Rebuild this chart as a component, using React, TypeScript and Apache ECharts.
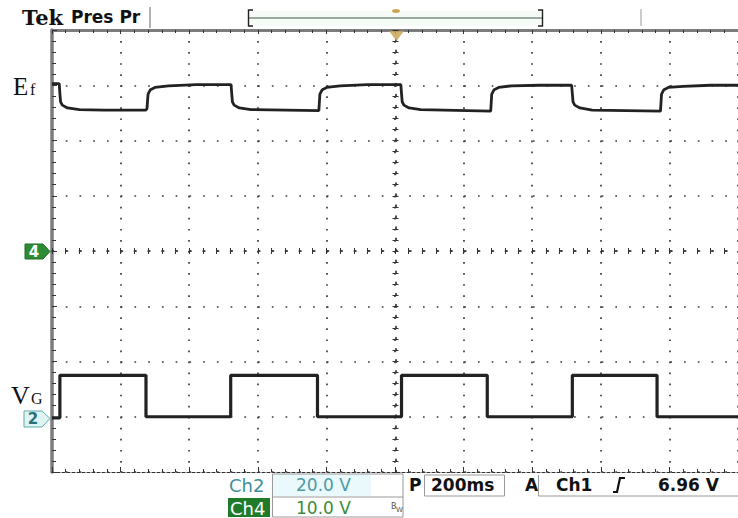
import React, { useEffect, useRef } from "react";
import * as echarts from "echarts";

// time axis (ms), 200 ms/div, 10 divisions
const timeMin = 0;
const timeMax = 2000;
const timeStep = 200;
// vertical axis in divisions
const divMin = -4;
const divMax = 4;
const divStep = 1;

// Ef trace (ms, div)
const efPoints: [number, number][] = [
  [0, 3.03], [21, 3.03], [23, 2.85], [25, 2.7], [30, 2.64], [45, 2.59], [80, 2.56], [150, 2.55], [274, 2.55],
  [277, 2.58], [280, 2.84], [287, 2.92], [300, 2.96], [340, 2.99], [420, 3.01], [522, 3.01],
  [524, 2.85], [526, 2.7], [531, 2.64], [546, 2.59], [580, 2.56], [778, 2.54],
  [781, 2.84], [788, 2.92], [801, 2.96], [840, 2.99], [920, 3.01], [1017, 3.01],
  [1019, 2.85], [1021, 2.7], [1026, 2.64], [1041, 2.59], [1075, 2.56], [1279, 2.53],
  [1282, 2.84], [1289, 2.92], [1302, 2.96], [1340, 2.99], [1420, 3.0], [1515, 3.0],
  [1517, 2.85], [1519, 2.7], [1524, 2.64], [1539, 2.59], [1575, 2.55], [1774, 2.53],
  [1777, 2.84], [1784, 2.92], [1797, 2.96], [1840, 2.98], [1920, 3.0], [2000, 3.0],
];

// VG trace (ms, div)
const vgPoints: [number, number][] = [
  [0, -3.02], [23, -3.02], [23, -2.25], [274, -2.25], [274, -3.0], [521, -3.0],
  [521, -2.25], [774, -2.25], [774, -3.0], [1019, -3.0], [1019, -2.25], [1269, -2.25],
  [1269, -3.0], [1517, -3.0], [1517, -2.25], [1764, -2.25], [1764, -3.0], [2000, -3.0],
];

const traceColor = "#222222";
const dotColor = "#3c3c3c";
const borderGray = "#7d7d7d";

export default function App() {
  const ref = useRef<HTMLDivElement>(null);
  useEffect(() => {
    if (!ref.current) return;
    const chart = echarts.init(ref.current, undefined, { renderer: "svg" });
    const xBase = {
      type: "value",
      min: timeMin,
      max: timeMax,
      interval: timeStep,
      axisLabel: { show: false },
      splitLine: { show: false },
    };
    const yBase = {
      type: "value",
      min: divMin,
      max: divMax,
      interval: divStep,
      axisLabel: { show: false },
      splitLine: { show: false },
    };
    const sans = "DejaVu Sans";
    chart.setOption({
      animation: false,
      backgroundColor: "#ffffff",
      grid: { left: 52, top: 30, width: 687, height: 442 },
      xAxis: [
        {
          ...xBase,
          position: "bottom",
          axisLine: { show: true, onZero: false, lineStyle: { color: "#333", width: 1.2, type: [3, 2] } },
          axisTick: { show: true, inside: true, length: 5, lineStyle: { color: "#333" } },
          minorTick: { show: true, splitNumber: 5, length: 3, lineStyle: { color: "#333" } },
          splitLine: { show: true, lineStyle: { color: dotColor, width: 1.7, type: [1.7, 9.35] } },
        },
        {
          ...xBase,
          position: "top",
          axisLine: { show: true, onZero: false, lineStyle: { color: borderGray, width: 3 } },
          axisTick: { show: true, inside: true, length: 4, lineStyle: { color: "#333" } },
          minorTick: { show: true, splitNumber: 5, length: 3, lineStyle: { color: "#333" } },
        },
        {
          ...xBase,
          position: "bottom",
          offset: -221,
          axisLine: { show: true, onZero: false, lineStyle: { color: "#333", width: 1.7, type: [1.7, 12.04] } },
          axisTick: { show: true, inside: true, length: 3, lineStyle: { color: "#333" } },
          minorTick: { show: true, splitNumber: 5, length: 3, lineStyle: { color: "#333" } },
        },
        {
          ...xBase,
          position: "bottom",
          offset: -221,
          axisLine: { show: false, onZero: false },
          axisTick: { show: true, inside: false, length: 3, lineStyle: { color: "#333" } },
          minorTick: { show: true, splitNumber: 5, length: 3, lineStyle: { color: "#333" } },
        },
      ],
      yAxis: [
        {
          ...yBase,
          position: "left",
          axisLine: { show: true, onZero: false, lineStyle: { color: borderGray, width: 3.5 } },
          axisTick: { show: true, inside: true, length: 5, lineStyle: { color: "#333" } },
          minorTick: { show: true, splitNumber: 5, length: 4, lineStyle: { color: "#333" } },
          splitLine: { show: true, lineStyle: { color: dotColor, width: 1.7, type: [1.7, 12.04] } },
        },
        {
          ...yBase,
          position: "left",
          offset: -343.5,
          axisLine: { show: true, onZero: false, lineStyle: { color: "#333", width: 1.7, type: [1.7, 9.35] } },
          axisTick: { show: true, inside: true, length: 3, lineStyle: { color: "#333" } },
          minorTick: { show: true, splitNumber: 5, length: 3, lineStyle: { color: "#333" } },
        },
        {
          ...yBase,
          position: "left",
          offset: -343.5,
          axisLine: { show: false, onZero: false },
          axisTick: { show: true, inside: false, length: 3, lineStyle: { color: "#333" } },
          minorTick: { show: true, splitNumber: 5, length: 3, lineStyle: { color: "#333" } },
        },
      ],
      series: [
        {
          name: "Ef",
          type: "line",
          xAxisIndex: 0,
          yAxisIndex: 0,
          data: efPoints,
          symbol: "none",
          lineStyle: { color: traceColor, width: 2.8 },
          z: 10,
        },
        {
          name: "VG",
          type: "line",
          xAxisIndex: 0,
          yAxisIndex: 0,
          data: vgPoints,
          symbol: "none",
          lineStyle: { color: traceColor, width: 3.2 },
          z: 10,
        },
      ],
      graphic: [
        // header
        { type: "text", x: 22, y: 17, style: { text: "Tek", font: "bold 21px 'DejaVu Serif'", fill: "#111", textVerticalAlign: "middle" } },
        { type: "text", x: 71, y: 17, style: { text: "Pres Pr", font: `bold 17px '${sans}'`, fill: "#111", textVerticalAlign: "middle" } },
        { type: "line", shape: { x1: 150, y1: 7, x2: 150, y2: 28 }, style: { stroke: "#999", lineWidth: 1.5 } },
        { type: "rect", shape: { x: 249, y: 11, width: 293, height: 15 }, style: { fill: "#f7fbf7" } },
        { type: "line", shape: { x1: 249, y1: 18, x2: 542, y2: 18 }, style: { stroke: "#3c5a48", lineWidth: 1.2 } },
        { type: "polyline", shape: { points: [[253, 10], [248.5, 10], [248.5, 26], [253, 26]] }, style: { stroke: "#222", lineWidth: 1.4, fill: "none" } },
        { type: "polyline", shape: { points: [[538, 10], [542.5, 10], [542.5, 26], [538, 26]] }, style: { stroke: "#222", lineWidth: 1.4, fill: "none" } },
        { type: "ellipse", shape: { cx: 396, cy: 11, rx: 4, ry: 2 }, style: { fill: "#c9a64e" } },
        { type: "line", shape: { x1: 641, y1: 9, x2: 641, y2: 26 }, style: { stroke: "#aaa", lineWidth: 1.2 } },
        // trigger marker
        { type: "polygon", shape: { points: [[389, 31], [404, 31], [396.5, 41]] }, style: { fill: "#c8a458", opacity: 0.85 }, z: 20 },
        // channel labels
        { type: "text", x: 13, y: 86, style: { text: "E", font: "25px 'Liberation Serif'", fill: "#111", textVerticalAlign: "middle" } },
        { type: "text", x: 30, y: 89, style: { text: "f", font: "16px 'Liberation Serif'", fill: "#111", textVerticalAlign: "middle" } },
        { type: "text", x: 11, y: 395, style: { text: "V", font: "26px 'Liberation Serif'", fill: "#111", textVerticalAlign: "middle" } },
        { type: "text", x: 31, y: 398, style: { text: "G", font: "16px 'Liberation Serif'", fill: "#111", textVerticalAlign: "middle" } },
        // ch4 marker
        { type: "polygon", shape: { points: [[25, 244], [43, 244], [50, 251.5], [43, 259], [25, 259]] }, style: { fill: "#2d8b35", stroke: "#1d6e25", lineWidth: 1 }, z: 20 },
        { type: "text", x: 34, y: 252, style: { text: "4", font: `bold 15px '${sans}'`, fill: "#ffffff", textAlign: "center", textVerticalAlign: "middle" }, z: 21 },
        // ch2 marker
        { type: "polygon", shape: { points: [[24, 411], [42, 411], [50, 418.5], [42, 427], [24, 427]] }, style: { fill: "#dff5f5", stroke: "#5ea9aa", lineWidth: 1 }, z: 20 },
        { type: "text", x: 33, y: 419, style: { text: "2", font: `bold 15px '${sans}'`, fill: "#2b6f78", textAlign: "center", textVerticalAlign: "middle" }, z: 21 },
        // bottom readout row 1
        { type: "text", x: 229, y: 485, style: { text: "Ch2", font: `18px '${sans}'`, fill: "#3f8f98", textVerticalAlign: "middle" } },
        { type: "rect", shape: { x: 273, y: 474, width: 98, height: 22 }, style: { fill: "#eaf9fb" } },
        { type: "rect", shape: { x: 272.5, y: 474, width: 130.5, height: 23 }, style: { fill: "none", stroke: "#9a9a9a", lineWidth: 1 } },
        { type: "text", x: 296, y: 485, style: { text: "20.0 V", font: `17px '${sans}'`, fill: "#4f9aa4", textVerticalAlign: "middle" } },
        { type: "text", x: 409, y: 485, style: { text: "P", font: `bold 17px '${sans}'`, fill: "#111", textVerticalAlign: "middle" } },
        { type: "rect", shape: { x: 424.5, y: 475, width: 80, height: 21 }, style: { fill: "none", stroke: "#9a9a9a", lineWidth: 1 } },
        { type: "text", x: 431, y: 485, style: { text: "200ms", font: `bold 17px '${sans}'`, fill: "#111", textVerticalAlign: "middle" } },
        { type: "text", x: 525, y: 485, style: { text: "A", font: `bold 17px '${sans}'`, fill: "#111", textVerticalAlign: "middle" } },
        { type: "polyline", shape: { points: [[538.5, 475], [538.5, 496], [738, 496]] }, style: { stroke: "#9a9a9a", lineWidth: 1, fill: "none" } },
        { type: "text", x: 556, y: 485, style: { text: "Ch1", font: `bold 17px '${sans}'`, fill: "#111", textVerticalAlign: "middle" } },
        { type: "polyline", shape: { points: [[613, 492], [617, 492], [620, 478], [625, 478]] }, style: { stroke: "#111", lineWidth: 2.2, fill: "none" } },
        { type: "text", x: 658, y: 485, style: { text: "6.96 V", font: `bold 17px '${sans}'`, fill: "#111", textVerticalAlign: "middle" } },
        // bottom readout row 2
        { type: "rect", shape: { x: 228, y: 498, width: 42, height: 19 }, style: { fill: "#1f7a2a" } },
        { type: "text", x: 230, y: 508, style: { text: "Ch4", font: `18px '${sans}'`, fill: "#ffffff", textVerticalAlign: "middle" } },
        { type: "polyline", shape: { points: [[272.5, 497], [272.5, 517], [403, 517], [403, 497]] }, style: { stroke: "#9a9a9a", lineWidth: 1, fill: "none" } },
        { type: "text", x: 296, y: 508, style: { text: "10.0 V", font: `17px '${sans}'`, fill: "#3d8c3d", textVerticalAlign: "middle" } },
        { type: "text", x: 391, y: 506, style: { text: "B", font: `8px '${sans}'`, fill: "#555", textVerticalAlign: "middle" } },
        { type: "text", x: 396, y: 510, style: { text: "W", font: `7px '${sans}'`, fill: "#555", textVerticalAlign: "middle" } },
      ],
    });
    return () => chart.dispose();
  }, []);
  return (
    <div
      ref={ref}
      style={{ position: "absolute", left: 0, top: 0, width: 738, height: 518, background: "#fff" }}
    />
  );
}
